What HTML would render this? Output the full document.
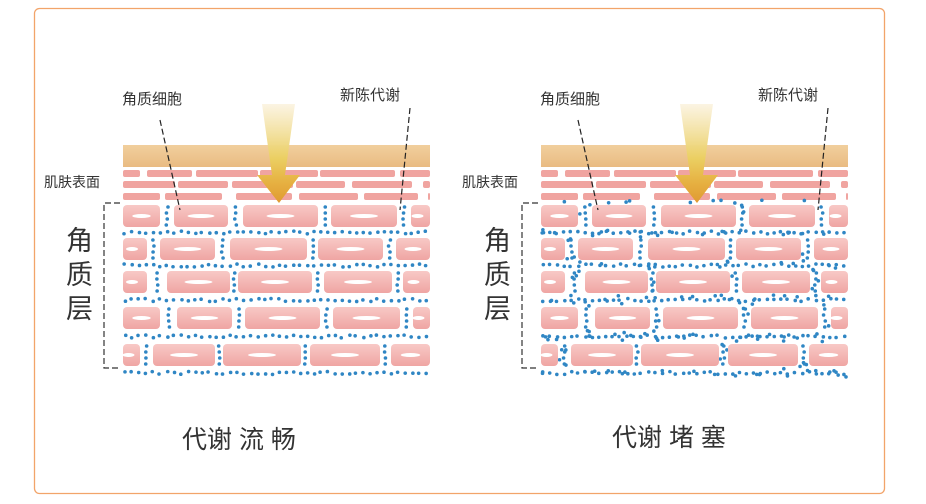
<!DOCTYPE html>
<html><head><meta charset="utf-8"><style>
html,body{margin:0;padding:0;background:#fff;width:926px;height:504px;overflow:hidden}
svg text{font-family:"Liberation Sans","WenQuanYi Zen Hei","Noto Sans CJK SC",sans-serif;fill:#333}
</style></head><body>
<svg id="s" width="926" height="504" xmlns="http://www.w3.org/2000/svg">
<defs>
<linearGradient id="tan" x1="0" y1="0" x2="0" y2="1"><stop offset="0" stop-color="#f1cf9d"/><stop offset="1" stop-color="#e9bb82"/></linearGradient>
<linearGradient id="cell" x1="0" y1="0" x2="0" y2="1"><stop offset="0" stop-color="#f8c9c6"/><stop offset="1" stop-color="#efa5a3"/></linearGradient>
<linearGradient id="arr" x1="0" y1="0" x2="0" y2="1"><stop offset="0" stop-color="#fbf3e0" stop-opacity="0.9"/><stop offset="0.55" stop-color="#ebcf62"/><stop offset="0.8" stop-color="#e6b041"/><stop offset="1" stop-color="#e09a32"/></linearGradient>
</defs>
<rect x="34.5" y="8.5" width="850" height="485" rx="5" fill="none" stroke="#f2a46a" stroke-width="1.3"/>
<g id="g"></g>
<text x="182" y="448" font-size="25">代谢 流 畅</text>
<text x="612" y="446" font-size="25">代谢 堵 塞</text>
</svg>
<script>
var g=document.getElementById('g'),NS='http://www.w3.org/2000/svg';
function el(t,a,p){var e=document.createElementNS(NS,t);for(var k in a)e.setAttribute(k,a[k]);(p||g).appendChild(e);return e}
var thin=[[170,[[123,140],[147,192],[196,258],[260,318],[320,395],[400,430]]],[181,[[123,175],[178,228],[232,293],[296,345],[352,412],[423,430]]],[193,[[123,160],[165,222],[236,292],[299,358],[364,418],[428,430]]]];
var big=[[205,[[123,160],[174,228],[243,318],[331,397],[411,430]]],[238,[[123,147],[160,215],[230,307],[318,383],[396,430]]],[271,[[123,147],[167,230],[238,312],[324,392],[403,430]]],[307,[[123,160],[177,232],[245,320],[333,400],[413,430]]],[344,[[123,140],[153,215],[223,301],[310,380],[391,430]]]];
var seed=7;function r(){seed=(seed*16807)%2147483647;return seed/2147483647}
[0,418].forEach(function(o,pi){
 var G=el('g',{transform:'translate('+o+',0)'});
 el('rect',{x:123,y:145,width:307,height:22,fill:'url(#tan)'},G);
 thin.forEach(function(row){row[1].forEach(function(c){el('rect',{x:c[0],y:row[0],width:c[1]-c[0],height:7,rx:2,fill:'#f0a4a0'},G)})});
 var dots=[];
 big.forEach(function(row,i){
  var yb=row[0]+22+ (i<4? (big[i+1][0]-row[0]-22)/2 : 7);
  for(var x=125;x<430;x+=7)dots.push([x+(r()-.5)*2,yb+(r()-.5)*3]);
  row[1].forEach(function(c,j){if(j>0){var gx=(row[1][j-1][1]+c[0])/2;for(var y=row[0]+2;y<row[0]+22;y+=6)dots.push([gx+(r()-.5)*2,y]);}});
 });
 if(pi==1){for(var n=0;n<450;n++){var x=123+r()*305,y=200+r()*178;var inside=false;big.forEach(function(row){if(y>row[0]-2&&y<row[0]+24)row[1].forEach(function(c){if(x>c[0]-1&&x<c[1]+1)inside=true})});if(!inside)dots.push([x,y])}}
 dots.forEach(function(d){if(d[0]<428&&d[1]<380)el('circle',{cx:d[0],cy:d[1],r:1.8,fill:'#2f86c4'},G)});
 big.forEach(function(row){row[1].forEach(function(c){var w=c[1]-c[0];el('rect',{x:c[0],y:row[0],width:w,height:22,rx:4,fill:'url(#cell)'},G);if(w>30){el('ellipse',{cx:c[0]+w/2,cy:row[0]+11,rx:Math.min(14,w/4),ry:2,fill:'#fff'},G)}else{el('ellipse',{cx:c[0]+w/2-3,cy:row[0]+11,rx:6,ry:2,fill:'#fff'},G)}})});
 el('path',{d:'M262 104 L295 104 L285 175 L300 175 L279 203 L257 175 L272 175 Z',fill:'url(#arr)'},G);
 el('path',{d:'M160 120 L180 210 M410 108 L400 210',stroke:'#222','stroke-width':1.2,'stroke-dasharray':'6 3',fill:'none'},G);
 el('path',{d:'M120 203 L104 203 L104 368 L120 368',stroke:'#333','stroke-width':1.2,'stroke-dasharray':'6 3',fill:'none'},G);
 var t=el('text',{x:122,y:104,'font-size':15},G);t.textContent='角质细胞';
 t=el('text',{x:340,y:100,'font-size':15},G);t.textContent='新陈代谢';
 t=el('text',{x:44,y:187,'font-size':14},G);t.textContent='肌肤表面';
 ['角','质','层'].forEach(function(ch,i){var tt=el('text',{x:66,y:250+i*34,'font-size':27},G);tt.textContent=ch});
});
</script>
</body></html>
